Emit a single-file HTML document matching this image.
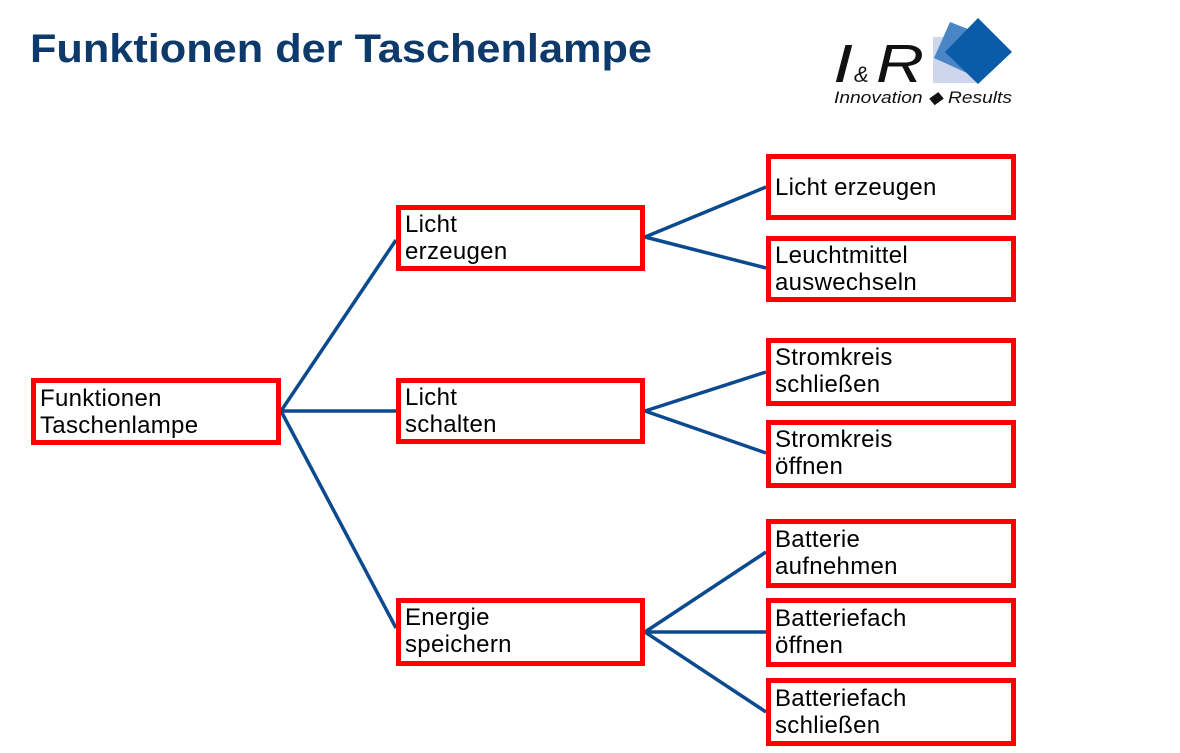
<!DOCTYPE html>
<html><head><meta charset="utf-8"><style>
html,body{margin:0;padding:0;background:#fff;}
svg{display:block}
</style></head><body>
<svg width="1180" height="753" viewBox="0 0 1180 753" xmlns="http://www.w3.org/2000/svg">
<text x="30" y="62" font-family="Liberation Sans, sans-serif" font-weight="bold" font-size="40" fill="#0d3a6b" textLength="622" lengthAdjust="spacingAndGlyphs">Funktionen der Taschenlampe</text>
<!-- logo -->
<rect x="933" y="37" width="44" height="46" fill="#cdd6ec"/>
<polygon points="950,22 996,40 978,78 934,58" fill="#4a86c5"/>
<polygon points="978,18 1012,52 978,84 945,52" fill="#0a5ba8"/>
<text x="833" y="82" font-family="Liberation Sans, sans-serif" font-style="italic" font-size="54" fill="#111" textLength="20" lengthAdjust="spacingAndGlyphs">I</text>
<text x="854" y="82" font-family="Liberation Sans, sans-serif" font-style="italic" font-size="22" fill="#111">&amp;</text>
<text x="876" y="82" font-family="Liberation Sans, sans-serif" font-style="italic" font-size="54" fill="#111" textLength="48" lengthAdjust="spacingAndGlyphs">R</text>
<text x="834" y="103" font-family="Liberation Sans, sans-serif" font-style="italic" font-size="17" fill="#111" textLength="178" lengthAdjust="spacingAndGlyphs">Innovation ◆ Results</text>
<!-- lines -->
<g stroke="#0b4a8e" stroke-width="3.5" fill="none">
<line x1="281" y1="411" x2="396" y2="240"/>
<line x1="281" y1="411" x2="396" y2="411"/>
<line x1="281" y1="411" x2="396" y2="628"/>
<line x1="645" y1="237" x2="766" y2="187"/>
<line x1="645" y1="237" x2="766" y2="268"/>
<line x1="645" y1="411" x2="766" y2="372"/>
<line x1="645" y1="411" x2="766" y2="453"/>
<line x1="645" y1="632" x2="766" y2="552"/>
<line x1="645" y1="632" x2="766" y2="632"/>
<line x1="645" y1="632" x2="766" y2="712"/>
</g>
<!-- boxes -->
<g stroke="#ff0000" stroke-width="5" fill="#fff">
<rect x="33.5" y="380.5" width="245" height="62"/>
<rect x="398.5" y="207.5" width="244" height="61"/>
<rect x="398.5" y="380.5" width="244" height="61"/>
<rect x="398.5" y="600.5" width="244" height="63"/>
<rect x="768.5" y="156.5" width="245" height="61"/>
<rect x="768.5" y="238.5" width="245" height="61"/>
<rect x="768.5" y="340.5" width="245" height="63"/>
<rect x="768.5" y="422.5" width="245" height="63"/>
<rect x="768.5" y="521.5" width="245" height="64"/>
<rect x="768.5" y="600.5" width="245" height="64"/>
<rect x="768.5" y="680.5" width="245" height="63"/>
</g>
<g font-family="Liberation Sans, sans-serif" font-size="24" fill="#000" letter-spacing="0.3">
<text x="40" y="406">Funktionen</text><text x="40" y="433">Taschenlampe</text>
<text x="405" y="232">Licht</text><text x="405" y="259">erzeugen</text>
<text x="405" y="405">Licht</text><text x="405" y="432">schalten</text>
<text x="405" y="625">Energie</text><text x="405" y="652">speichern</text>
<text x="775" y="195">Licht erzeugen</text>
<text x="775" y="263">Leuchtmittel</text><text x="775" y="290">auswechseln</text>
<text x="775" y="365">Stromkreis</text><text x="775" y="392">schließen</text>
<text x="775" y="447">Stromkreis</text><text x="775" y="474">öffnen</text>
<text x="775" y="547">Batterie</text><text x="775" y="574">aufnehmen</text>
<text x="775" y="626">Batteriefach</text><text x="775" y="653">öffnen</text>
<text x="775" y="706">Batteriefach</text><text x="775" y="733">schließen</text>
</g>
</svg>
</body></html>
